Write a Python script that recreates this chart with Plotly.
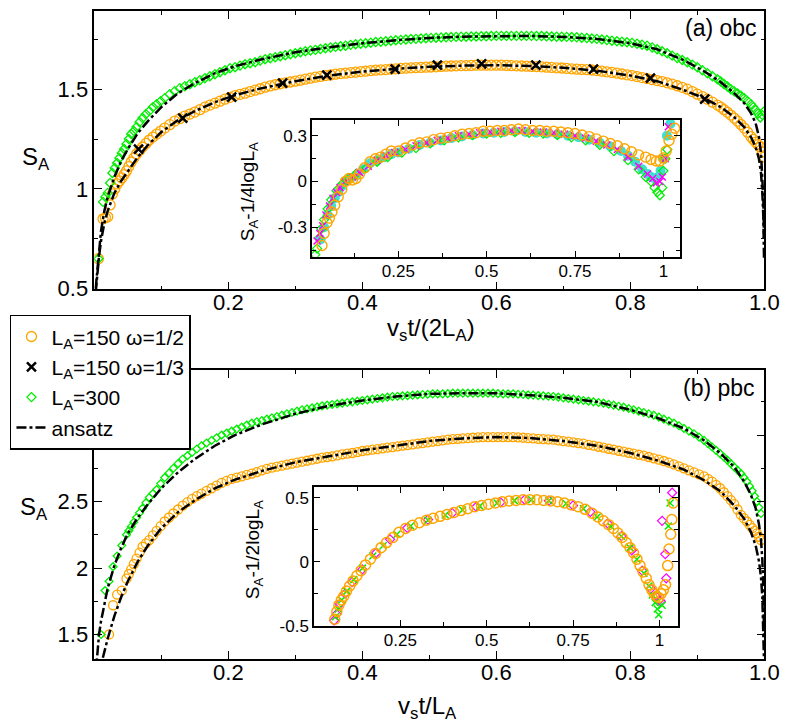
import plotly.graph_objects as go

FONT = "Liberation Sans, Arial, Helvetica, sans-serif"
ORANGE = "#FFA500"
GREEN = "#00EE00"
MAGENTA = "#FF00FF"
CYAN = "#40E0D0"

# ---------------- (a) obc main panel ----------------
xs_obc = [0.006, 0.013, 0.02, 0.027, 0.034, 0.041, 0.048, 0.055, 0.063, 0.072,
          0.082, 0.093, 0.105, 0.12, 0.135, 0.15, 0.165, 0.18, 0.195, 0.21,
          0.225, 0.24, 0.255, 0.27, 0.285, 0.30, 0.315, 0.33, 0.345, 0.36,
          0.375, 0.39, 0.405, 0.42, 0.435, 0.45, 0.465, 0.48, 0.495, 0.51,
          0.525, 0.54, 0.555, 0.57, 0.585, 0.60, 0.615, 0.63, 0.645, 0.66,
          0.675, 0.69, 0.705, 0.72, 0.735, 0.75, 0.765, 0.78, 0.795, 0.81,
          0.825, 0.84, 0.855, 0.87, 0.885, 0.90, 0.915, 0.93, 0.94, 0.95,
          0.96, 0.97, 0.98, 0.987, 0.994, 1.0]
obc_L300 = [0.65, 0.935, 0.98, 1.08, 1.13, 1.18, 1.225, 1.275, 1.31, 1.355,
            1.39, 1.425, 1.455, 1.49, 1.515, 1.535, 1.555, 1.575, 1.595, 1.61,
            1.625, 1.635, 1.65, 1.66, 1.67, 1.68, 1.69, 1.697, 1.705, 1.712,
            1.718, 1.725, 1.73, 1.736, 1.74, 1.745, 1.749, 1.752, 1.755, 1.758,
            1.76, 1.762, 1.763, 1.764, 1.765, 1.767, 1.767, 1.767, 1.767, 1.766,
            1.765, 1.763, 1.762, 1.76, 1.756, 1.752, 1.746, 1.74, 1.735, 1.728,
            1.718, 1.70, 1.68, 1.656, 1.635, 1.61, 1.58, 1.55, 1.525, 1.50,
            1.478, 1.455, 1.425, 1.395, 1.358, 1.39]
obc_L150_w2 = [0.65, 0.85, 0.86, 0.975, 1.025, 1.055, 1.09, 1.135, 1.175, 1.21,
               1.245, 1.275, 1.305, 1.34, 1.365, 1.385, 1.41, 1.43, 1.45, 1.468,
               1.48, 1.495, 1.51, 1.522, 1.532, 1.54, 1.55, 1.56, 1.568, 1.575,
               1.58, 1.585, 1.59, 1.595, 1.598, 1.602, 1.605, 1.608, 1.61, 1.612,
               1.615, 1.617, 1.618, 1.62, 1.62, 1.62, 1.619, 1.617, 1.615, 1.613,
               1.61, 1.607, 1.604, 1.60, 1.598, 1.593, 1.587, 1.58, 1.572, 1.563,
               1.553, 1.543, 1.532, 1.517, 1.50, 1.475, 1.45, 1.42, 1.397, 1.37,
               1.34, 1.305, 1.262, 1.235, 1.21, 1.16]
# in-between time steps (the data are much denser than one point per 0.015)
xs_obc_mid = [0.0165, 0.0235, 0.0305, 0.0375, 0.0445, 0.0515, 0.059, 0.0675, 0.077,
              0.0875, 0.099, 0.1125, 0.1275, 0.1425, 0.1575, 0.1725, 0.1875, 0.2025, 0.2175,
              0.2325, 0.2475, 0.2625, 0.2775, 0.2925, 0.3075, 0.3225, 0.3375, 0.3525, 0.3675,
              0.3825, 0.3975, 0.4125, 0.4275, 0.4425, 0.4575, 0.4725, 0.4875, 0.5025, 0.5175,
              0.5325, 0.5475, 0.5625, 0.5775, 0.5925, 0.6075, 0.6225, 0.6375, 0.6525, 0.6675,
              0.6825, 0.6975, 0.7125, 0.7275, 0.7425, 0.7575, 0.7725, 0.7875, 0.8025, 0.8175,
              0.8325, 0.8475, 0.8625, 0.8775, 0.8925, 0.9075, 0.9225, 0.935, 0.945, 0.955,
              0.965, 0.975, 0.9835, 0.9905, 0.997]
obc_L300_mid = [0.96, 1.03, 1.105, 1.155, 1.20, 1.25, 1.29, 1.335, 1.375,
                1.41, 1.44, 1.475, 1.505, 1.525, 1.545, 1.565, 1.585, 1.605, 1.618,
                1.63, 1.643, 1.655, 1.665, 1.675, 1.685, 1.694, 1.701, 1.709, 1.715,
                1.722, 1.728, 1.733, 1.738, 1.743, 1.747, 1.751, 1.754, 1.757, 1.759,
                1.761, 1.763, 1.764, 1.765, 1.766, 1.767, 1.767, 1.767, 1.767, 1.766,
                1.764, 1.763, 1.761, 1.758, 1.754, 1.749, 1.743, 1.738, 1.732, 1.723,
                1.709, 1.69, 1.668, 1.646, 1.623, 1.595, 1.565, 1.538, 1.513, 1.489,
                1.467, 1.44, 1.41, 1.377, 1.37]
obc_L150_w2_mid = [0.855, 0.92, 1.0, 1.04, 1.072, 1.112, 1.155, 1.193, 1.228,
                   1.26, 1.29, 1.322, 1.352, 1.375, 1.397, 1.42, 1.44, 1.459, 1.474,
                   1.488, 1.502, 1.516, 1.527, 1.536, 1.545, 1.555, 1.564, 1.571, 1.578,
                   1.583, 1.588, 1.593, 1.597, 1.60, 1.604, 1.607, 1.609, 1.611, 1.614,
                   1.616, 1.618, 1.619, 1.62, 1.62, 1.62, 1.618, 1.616, 1.614, 1.612,
                   1.609, 1.606, 1.602, 1.599, 1.596, 1.59, 1.584, 1.576, 1.568, 1.558,
                   1.548, 1.538, 1.525, 1.509, 1.488, 1.463, 1.435, 1.41, 1.384, 1.355,
                   1.323, 1.284, 1.248, 1.222, 1.185]
xs_obc_w3 = [0.066, 0.132, 0.205, 0.281, 0.347, 0.449, 0.512, 0.578, 0.659, 0.745, 0.830, 0.911]
obc_L150_w3 = [1.20, 1.355, 1.46, 1.53, 1.57, 1.60, 1.62, 1.627, 1.62, 1.60, 1.555, 1.45]

xs_ansatz = [0.002, 0.004, 0.007, 0.01, 0.015, 0.02, 0.03, 0.04, 0.05, 0.065,
             0.08, 0.1, 0.125, 0.15, 0.18, 0.21, 0.25, 0.3, 0.35, 0.4,
             0.45, 0.5, 0.55, 0.6, 0.65, 0.7, 0.75, 0.8, 0.84, 0.88,
             0.91, 0.935, 0.955, 0.97, 0.98, 0.987, 0.992, 0.995, 0.997, 0.9985,
             0.9995]
ansatz_obc_L300 = [0.50, 0.58, 0.70, 0.79, 0.89, 0.96, 1.06, 1.14, 1.20, 1.28,
                   1.34, 1.41, 1.48, 1.53, 1.58, 1.615, 1.65, 1.685, 1.71, 1.73,
                   1.745, 1.757, 1.763, 1.766, 1.767, 1.762, 1.752, 1.73, 1.70, 1.645,
                   1.59, 1.535, 1.48, 1.43, 1.38, 1.33, 1.26, 1.18, 1.08, 0.95,
                   0.75]
ansatz_obc_L150 = [0.48, 0.56, 0.66, 0.74, 0.83, 0.89, 0.98, 1.04, 1.09, 1.16,
                   1.22, 1.285, 1.345, 1.39, 1.435, 1.47, 1.505, 1.54, 1.568, 1.588,
                   1.602, 1.612, 1.618, 1.62, 1.616, 1.607, 1.593, 1.568, 1.54, 1.495,
                   1.455, 1.41, 1.36, 1.31, 1.26, 1.21, 1.15, 1.08, 0.98, 0.86,
                   0.65]

# ---------------- (b) pbc main panel ----------------
xs_pbc = [0.01, 0.016, 0.022, 0.028, 0.034, 0.041, 0.048, 0.055, 0.063, 0.072,
          0.082, 0.093, 0.105, 0.118, 0.132, 0.146, 0.16, 0.175, 0.19, 0.205,
          0.22, 0.235, 0.25, 0.265, 0.28, 0.295, 0.31, 0.325, 0.34, 0.355,
          0.37, 0.385, 0.40, 0.415, 0.43, 0.445, 0.46, 0.475, 0.49, 0.505,
          0.52, 0.535, 0.55, 0.565, 0.58, 0.595, 0.61, 0.625, 0.64, 0.655,
          0.67, 0.685, 0.70, 0.715, 0.73, 0.745, 0.76, 0.775, 0.79, 0.805,
          0.82, 0.835, 0.85, 0.865, 0.88, 0.895, 0.91, 0.922, 0.934, 0.945,
          0.955, 0.965, 0.974, 0.982, 0.989, 0.995]
pbc_L300 = [1.50, 1.83, 1.90, 2.01, 2.09, 2.17, 2.25, 2.31, 2.38, 2.45,
            2.53, 2.59, 2.68, 2.75, 2.82, 2.87, 2.92, 2.96, 3.0, 3.03,
            3.06, 3.09, 3.11, 3.13, 3.15, 3.17, 3.19, 3.205, 3.22, 3.23,
            3.24, 3.25, 3.26, 3.27, 3.28, 3.29, 3.295, 3.30, 3.305, 3.31,
            3.31, 3.315, 3.315, 3.315, 3.315, 3.315, 3.31, 3.31, 3.305, 3.30,
            3.295, 3.29, 3.28, 3.27, 3.26, 3.25, 3.24, 3.225, 3.21, 3.19,
            3.17, 3.15, 3.12, 3.09, 3.05, 3.01, 2.96, 2.91, 2.86, 2.81,
            2.76, 2.71, 2.65, 2.58, 2.50, 2.41]
xs_pbc_150 = xs_pbc[2:]
pbc_L150 = [1.50, 1.72, 1.80, 1.83, 1.92, 1.99, 2.07, 2.16,
            2.21, 2.28, 2.35, 2.41, 2.47, 2.52, 2.56, 2.60, 2.64, 2.67,
            2.69, 2.71, 2.735, 2.755, 2.77, 2.785, 2.80, 2.815, 2.83, 2.84,
            2.855, 2.865, 2.88, 2.89, 2.90, 2.91, 2.92, 2.93, 2.94, 2.95,
            2.96, 2.97, 2.975, 2.98, 2.985, 2.985, 2.985, 2.985, 2.98, 2.975,
            2.97, 2.965, 2.955, 2.945, 2.935, 2.92, 2.905, 2.89, 2.875, 2.86,
            2.845, 2.825, 2.805, 2.78, 2.75, 2.72, 2.69, 2.65, 2.60, 2.54,
            2.48, 2.40, 2.35, 2.30, 2.26, 2.21]
xs_pbc_mid = [0.0515, 0.059, 0.0675, 0.077, 0.0875, 0.099, 0.1115, 0.125, 0.139, 0.153,
              0.1675, 0.1825, 0.1975, 0.2125, 0.2275, 0.2425, 0.2575, 0.2725, 0.2875, 0.3025,
              0.3175, 0.3325, 0.3475, 0.3625, 0.3775, 0.3925, 0.4075, 0.4225, 0.4375, 0.4525,
              0.4675, 0.4825, 0.4975, 0.5125, 0.5275, 0.5425, 0.5575, 0.5725, 0.5875, 0.6025,
              0.6175, 0.6325, 0.6475, 0.6625, 0.6775, 0.6925, 0.7075, 0.7225, 0.7375, 0.7525,
              0.7675, 0.7825, 0.7975, 0.8125, 0.8275, 0.8425, 0.8575, 0.8725, 0.8875, 0.9025,
              0.916, 0.928, 0.9395, 0.95, 0.96, 0.9695, 0.978, 0.9855, 0.992]
pbc_L300_mid = [2.28, 2.345, 2.415, 2.49, 2.56, 2.635, 2.715, 2.785, 2.845, 2.895,
                2.94, 2.98, 3.015, 3.045, 3.075, 3.10, 3.12, 3.14, 3.16, 3.18,
                3.197, 3.212, 3.225, 3.235, 3.245, 3.255, 3.265, 3.275, 3.285, 3.292,
                3.297, 3.302, 3.307, 3.31, 3.312, 3.315, 3.315, 3.315, 3.315, 3.312,
                3.31, 3.307, 3.302, 3.297, 3.292, 3.285, 3.275, 3.265, 3.255, 3.245,
                3.232, 3.217, 3.20, 3.18, 3.16, 3.135, 3.105, 3.07, 3.03, 2.985,
                2.935, 2.885, 2.835, 2.785, 2.735, 2.68, 2.615, 2.54, 2.455]
pbc_L150_mid = [1.955, 2.03, 2.115, 2.185, 2.245, 2.315, 2.38, 2.44, 2.495, 2.54,
                2.58, 2.62, 2.655, 2.68, 2.70, 2.722, 2.745, 2.762, 2.777, 2.792,
                2.807, 2.822, 2.835, 2.847, 2.86, 2.872, 2.885, 2.895, 2.905, 2.915,
                2.925, 2.935, 2.945, 2.955, 2.965, 2.972, 2.977, 2.982, 2.985, 2.985,
                2.985, 2.982, 2.977, 2.972, 2.967, 2.96, 2.95, 2.94, 2.927, 2.912,
                2.897, 2.882, 2.867, 2.852, 2.835, 2.815, 2.792, 2.765, 2.735, 2.705,
                2.67, 2.625, 2.57, 2.51, 2.44, 2.375, 2.325, 2.28, 2.235]
ansatz_pbc_L300 = [1.20, 1.35, 1.50, 1.60, 1.74, 1.85, 2.02, 2.15, 2.26, 2.38,
                   2.48, 2.60, 2.72, 2.82, 2.92, 3.0, 3.08, 3.16, 3.22, 3.26,
                   3.29, 3.31, 3.315, 3.315, 3.30, 3.28, 3.25, 3.19, 3.13, 3.05,
                   2.96, 2.86, 2.76, 2.65, 2.55, 2.45, 2.33, 2.21, 2.06, 1.85,
                   1.5]
ansatz_pbc_L150 = [0.90, 1.05, 1.18, 1.27, 1.38, 1.47, 1.64, 1.78, 1.90, 2.05,
                   2.17, 2.30, 2.42, 2.51, 2.60, 2.665, 2.73, 2.795, 2.84, 2.885,
                   2.92, 2.955, 2.975, 2.985, 2.978, 2.955, 2.92, 2.865, 2.81, 2.74,
                   2.66, 2.575, 2.47, 2.37, 2.27, 2.17, 2.05, 1.93, 1.78, 1.58,
                   1.30]

# ---------------- inset (a): S_A - 1/4 log L_A ----------------
ins_a_orange_x = [0.034, 0.04, 0.048, 0.055, 0.062, 0.07, 0.08, 0.09, 0.1, 0.11,
                  0.12, 0.13, 0.14, 0.155, 0.17, 0.185, 0.2, 0.215, 0.23, 0.25,
                  0.27, 0.29, 0.31, 0.33, 0.35, 0.37, 0.39, 0.41, 0.43, 0.45,
                  0.47, 0.49, 0.51, 0.53, 0.55, 0.57, 0.59, 0.61, 0.63, 0.65,
                  0.67, 0.69, 0.71, 0.73, 0.75, 0.77, 0.79, 0.81, 0.83, 0.85,
                  0.87, 0.89, 0.91, 0.93, 0.95, 0.965, 0.98, 0.99, 1.0, 1.008,
                  1.016, 1.024, 1.032]
ins_a_orange_y = [-0.42, -0.34, -0.27, -0.24, -0.2, -0.155, -0.1, -0.05, 0.0, 0.02,
                  0.01, 0.02, 0.05, 0.09, 0.13, 0.15, 0.16, 0.18, 0.2, 0.2,
                  0.22, 0.24, 0.255, 0.26, 0.275, 0.285, 0.29, 0.3, 0.31, 0.315,
                  0.32, 0.33, 0.33, 0.335, 0.335, 0.34, 0.345, 0.34, 0.335, 0.335,
                  0.33, 0.33, 0.325, 0.32, 0.315, 0.305, 0.295, 0.28, 0.265, 0.25,
                  0.235, 0.215, 0.195, 0.175, 0.16, 0.145, 0.135, 0.135, 0.155, 0.2,
                  0.27, 0.31, 0.35]
ins_a_magenta_x = [0.02, 0.028, 0.036, 0.045, 0.055, 0.065, 0.075, 0.085, 0.1, 0.12,
                   0.14, 0.165, 0.19, 0.215, 0.24, 0.27, 0.3, 0.33, 0.36, 0.39,
                   0.42, 0.45, 0.48, 0.51, 0.54, 0.57, 0.6, 0.63, 0.66, 0.69,
                   0.72, 0.75, 0.78, 0.81, 0.84, 0.87, 0.9, 0.93, 0.955, 0.97,
                   0.98, 0.99, 0.997, 1.005, 1.014]
ins_a_magenta_y = [-0.39, -0.34, -0.29, -0.22, -0.16, -0.11, -0.07, -0.04, 0.0, 0.03,
                   0.06, 0.1, 0.14, 0.17, 0.19, 0.21, 0.235, 0.255, 0.27, 0.285,
                   0.30, 0.31, 0.32, 0.325, 0.33, 0.335, 0.335, 0.33, 0.325, 0.32,
                   0.31, 0.30, 0.285, 0.265, 0.24, 0.21, 0.16, 0.10, 0.05, 0.02,
                   -0.01, 0.0, 0.03, 0.15, 0.36]
ins_a_green_x = [0.015, 0.02, 0.026, 0.032, 0.04, 0.05, 0.06, 0.075, 0.09, 0.11,
                 0.13, 0.16, 0.19, 0.22, 0.26, 0.3, 0.34, 0.38, 0.42, 0.46,
                 0.5, 0.54, 0.58, 0.62, 0.66, 0.7, 0.74, 0.78, 0.82, 0.86,
                 0.9, 0.93, 0.95, 0.965, 0.975, 0.983, 0.99, 0.997, 1.0, 1.006,
                 1.011]
ins_a_green_y = [-0.48, -0.44, -0.37, -0.31, -0.25, -0.18, -0.12, -0.06, -0.02, 0.02,
                 0.05, 0.09, 0.13, 0.16, 0.19, 0.22, 0.25, 0.27, 0.29, 0.305,
                 0.315, 0.32, 0.325, 0.32, 0.315, 0.305, 0.29, 0.27, 0.24, 0.2,
                 0.14, 0.08, 0.03, 0.0, -0.04, -0.07, -0.09, -0.04, 0.07, 0.15,
                 0.21]
ins_a_cyan_x = [0.03, 0.04, 0.05, 0.06, 0.07, 0.08, 0.09, 0.1, 0.115, 0.13,
                0.15, 0.17, 0.19, 0.21, 0.23, 0.25, 0.28, 0.31, 0.34, 0.37,
                0.4, 0.43, 0.46, 0.49, 0.52, 0.55, 0.58, 0.61, 0.64, 0.67,
                0.7, 0.73, 0.76, 0.79, 0.82, 0.85, 0.88, 0.9, 0.92, 0.94,
                0.955, 0.965, 0.975, 0.985, 0.992, 1.0, 1.01, 1.02]
ins_a_cyan_y = [-0.38, -0.3, -0.22, -0.16, -0.11, -0.07, -0.03, 0.0, 0.02, 0.04,
                0.08, 0.12, 0.14, 0.16, 0.18, 0.19, 0.215, 0.24, 0.255, 0.27,
                0.285, 0.295, 0.305, 0.315, 0.32, 0.325, 0.33, 0.325, 0.32, 0.315,
                0.31, 0.3, 0.29, 0.275, 0.255, 0.23, 0.2, 0.17, 0.13, 0.08,
                0.05, 0.03, 0.02, 0.03, 0.07, 0.15, 0.3, 0.38]

# ---------------- inset (b): S_A - 1/2 log L_A ----------------
ins_b_orange_x = [0.06, 0.066, 0.072, 0.079, 0.086, 0.094, 0.103, 0.113, 0.124, 0.136,
                  0.149, 0.163, 0.178, 0.194, 0.21, 0.228, 0.246, 0.265, 0.285, 0.305,
                  0.325, 0.345, 0.365, 0.385, 0.405, 0.425, 0.445, 0.465, 0.485, 0.505,
                  0.525, 0.545, 0.565, 0.585, 0.605, 0.625, 0.645, 0.665, 0.685, 0.705,
                  0.725, 0.745, 0.765, 0.785, 0.805, 0.822, 0.838, 0.853, 0.867, 0.88,
                  0.892, 0.904, 0.915, 0.925, 0.935, 0.944, 0.953, 0.962, 0.97, 0.978,
                  0.985, 0.992, 0.998, 1.005, 1.012, 1.018, 1.024, 1.028, 1.033, 1.036,
                  1.04]
ins_b_orange_y = [-0.45, -0.39, -0.34, -0.30, -0.27, -0.23, -0.19, -0.15, -0.11, -0.07,
                  -0.025, 0.02, 0.065, 0.11, 0.15, 0.19, 0.23, 0.26, 0.285, 0.305,
                  0.325, 0.34, 0.355, 0.37, 0.385, 0.40, 0.415, 0.43, 0.44, 0.45,
                  0.46, 0.47, 0.475, 0.48, 0.485, 0.485, 0.485, 0.48, 0.475, 0.47,
                  0.46, 0.445, 0.43, 0.41, 0.38, 0.35, 0.32, 0.29, 0.26, 0.225,
                  0.19, 0.15, 0.11, 0.07, 0.02, -0.03, -0.08, -0.13, -0.18, -0.22,
                  -0.25, -0.27, -0.28, -0.25, -0.22, -0.18, -0.03, 0.1, 0.215, 0.33,
                  0.46]
ins_b_magenta_x = [0.058, 0.065, 0.075, 0.09, 0.11, 0.14, 0.18, 0.22, 0.27, 0.33,
                   0.4, 0.47, 0.54, 0.61, 0.68, 0.75, 0.8, 0.85, 0.89, 0.92,
                   0.95, 0.975, 0.99, 1.0, 1.004, 1.02, 1.017, 1.008, 1.037]
ins_b_magenta_y = [-0.46, -0.41, -0.33, -0.25, -0.16, -0.06, 0.07, 0.175, 0.265, 0.33,
                   0.38, 0.43, 0.465, 0.485, 0.478, 0.44, 0.39, 0.3, 0.2, 0.09,
                   -0.07, -0.21, -0.27, -0.30, -0.31, -0.13, 0.06, 0.32, 0.54]
ins_b_green_x = [0.062, 0.07, 0.08, 0.095, 0.115, 0.14, 0.17, 0.2, 0.24, 0.28,
                 0.33, 0.38, 0.43, 0.48, 0.53, 0.58, 0.63, 0.68, 0.73, 0.78,
                 0.82, 0.86, 0.89, 0.915, 0.935, 0.955, 0.97, 0.98, 0.988, 0.994,
                 0.998, 1.008, 1.026, 1.031]
ins_b_green_y = [-0.43, -0.37, -0.3, -0.23, -0.14, -0.05, 0.045, 0.125, 0.215, 0.28,
                 0.325, 0.365, 0.405, 0.435, 0.46, 0.478, 0.485, 0.477, 0.455, 0.415,
                 0.35, 0.275, 0.2, 0.11, 0.02, -0.09, -0.19, -0.26, -0.32, -0.37,
                 -0.415, -0.34, 0.28, 0.46]

W, H = 789, 727


def px_x(p):
    return p / W


def px_y(p):
    return 1 - p / H


dashdot = "10px,3px,3px,3px"
fig = go.Figure()

# main (a)
fig.add_trace(go.Scatter(x=xs_obc + xs_obc_mid, y=obc_L150_w2 + obc_L150_w2_mid, mode="markers",
                         name="L<sub>A</sub>=150 ω=1/2",
                         marker=dict(symbol="circle-open", size=10, color=ORANGE, line=dict(width=1.3)),
                         xaxis="x", yaxis="y"))
fig.add_trace(go.Scatter(x=xs_obc_w3, y=obc_L150_w3, mode="markers", name="L<sub>A</sub>=150 ω=1/3",
                         marker=dict(symbol="x-thin", size=9, color="black", line=dict(width=2.5, color="black")),
                         xaxis="x", yaxis="y"))
fig.add_trace(go.Scatter(x=xs_obc + xs_obc_mid, y=obc_L300 + obc_L300_mid, mode="markers", name="L<sub>A</sub>=300",
                         marker=dict(symbol="diamond-open", size=7, color=GREEN, line=dict(width=1.3)),
                         xaxis="x", yaxis="y"))
fig.add_trace(go.Scatter(x=xs_ansatz, y=ansatz_obc_L300, mode="lines", name="ansatz",
                         line=dict(color="black", width=2.5, dash=dashdot), xaxis="x", yaxis="y"))
fig.add_trace(go.Scatter(x=xs_ansatz, y=ansatz_obc_L150, mode="lines", showlegend=False,
                         line=dict(color="black", width=2.5, dash=dashdot), xaxis="x", yaxis="y"))

# main (b)
fig.add_trace(go.Scatter(x=xs_pbc_150 + xs_pbc_mid, y=pbc_L150 + pbc_L150_mid, mode="markers", showlegend=False,
                         marker=dict(symbol="circle-open", size=9, color=ORANGE, line=dict(width=1.3)),
                         xaxis="x2", yaxis="y2"))
fig.add_trace(go.Scatter(x=xs_pbc + xs_pbc_mid, y=pbc_L300 + pbc_L300_mid, mode="markers", showlegend=False,
                         marker=dict(symbol="diamond-open", size=6, color=GREEN, line=dict(width=1.3)),
                         xaxis="x2", yaxis="y2"))
fig.add_trace(go.Scatter(x=xs_ansatz, y=ansatz_pbc_L300, mode="lines", showlegend=False,
                         line=dict(color="black", width=2.5, dash=dashdot), xaxis="x2", yaxis="y2"))
fig.add_trace(go.Scatter(x=xs_ansatz, y=ansatz_pbc_L150, mode="lines", showlegend=False,
                         line=dict(color="black", width=2.5, dash=dashdot), xaxis="x2", yaxis="y2"))

# inset (a)
fig.add_trace(go.Scatter(x=ins_a_cyan_x, y=ins_a_cyan_y, mode="markers", showlegend=False,
                         marker=dict(symbol="circle", size=10, color=CYAN), xaxis="x3", yaxis="y3"))
fig.add_trace(go.Scatter(x=ins_a_green_x, y=ins_a_green_y, mode="markers", showlegend=False,
                         marker=dict(symbol="diamond-open", size=7, color=GREEN, line=dict(width=1.2)),
                         xaxis="x3", yaxis="y3"))
fig.add_trace(go.Scatter(x=ins_a_magenta_x, y=ins_a_magenta_y, mode="markers", showlegend=False,
                         marker=dict(symbol="x-thin", size=7, color=MAGENTA, line=dict(width=1.5, color=MAGENTA)),
                         xaxis="x3", yaxis="y3"))
fig.add_trace(go.Scatter(x=ins_a_orange_x, y=ins_a_orange_y, mode="markers", showlegend=False,
                         marker=dict(symbol="circle-open", size=10, color=ORANGE, line=dict(width=1.4)),
                         xaxis="x3", yaxis="y3"))

# inset (b)
fig.add_trace(go.Scatter(x=ins_b_magenta_x, y=ins_b_magenta_y, mode="markers", showlegend=False,
                         marker=dict(symbol="diamond-open", size=7, color=MAGENTA, line=dict(width=1.2)),
                         xaxis="x4", yaxis="y4"))
fig.add_trace(go.Scatter(x=ins_b_green_x, y=ins_b_green_y, mode="markers", showlegend=False,
                         marker=dict(symbol="x-thin", size=7, color=GREEN, line=dict(width=1.5, color=GREEN)),
                         xaxis="x4", yaxis="y4"))
fig.add_trace(go.Scatter(x=ins_b_orange_x, y=ins_b_orange_y, mode="markers", showlegend=False,
                         marker=dict(symbol="circle-open", size=10, color=ORANGE, line=dict(width=1.5)),
                         xaxis="x4", yaxis="y4"))


def axis(rng, dom, tv, tt, minor, fsize, **kw):
    d = dict(range=rng, domain=dom, tickvals=tv, ticktext=tt, ticks="inside", ticklen=8,
             tickwidth=1.3, tickcolor="black", showline=True, linecolor="black", linewidth=1.5,
             mirror="allticks", showgrid=False, zeroline=False,
             tickfont=dict(family=FONT, size=fsize, color="black"),
             minor=dict(tickvals=minor, ticks="inside", ticklen=4, tickcolor="black", tickwidth=1.2))
    d.update(kw)
    return d


xdom_main = [px_x(88), px_x(771)]
main_xt = [0.2, 0.4, 0.6, 0.8, 1.0]
main_xl = ["0.2", "0.4", "0.6", "0.8", "1.0"]
main_xm = [0.1, 0.3, 0.5, 0.7, 0.9]

fig.update_layout(
    width=W, height=H, margin=dict(l=0, r=0, t=0, b=0),
    paper_bgcolor="white", plot_bgcolor="white",
    font=dict(family=FONT, color="black"),
    xaxis=axis([0, 1], xdom_main, main_xt, main_xl, main_xm, 22, anchor="y", ticklabelstandoff=-7),
    yaxis=axis([0.497, 1.892], [px_y(286), px_y(3)], [0.5, 1, 1.5], ["0.5", "1", "1.5"],
               [0.75, 1.25, 1.75], 22, anchor="x"),
    xaxis2=axis([0, 1], xdom_main, main_xt, main_xl, main_xm, 22, anchor="y2", ticklabelstandoff=-7),
    yaxis2=axis([1.315, 3.49], [px_y(662), px_y(368)], [1.5, 2, 2.5, 3], ["1.5", "2", "2.5", "3"],
                [1.75, 2.25, 2.75, 3.25], 22, anchor="x2"),
    xaxis3=axis([0.006, 1.047], [px_x(310), px_x(685)], [0.25, 0.5, 0.75, 1], ["0.25", "0.5", "0.75", "1"],
                [0.125, 0.375, 0.625, 0.875], 17, anchor="y3", ticklen=6, ticklabelstandoff=-2),
    yaxis3=axis([-0.494, 0.403], [px_y(253), px_y(114)], [-0.3, 0, 0.3], ["-0.3", "0", "0.3"],
                [-0.45, -0.15, 0.15], 17, anchor="x3", ticklen=6),
    xaxis4=axis([0, 1.054], [px_x(312), px_x(683)], [0.25, 0.5, 0.75, 1], ["0.25", "0.5", "0.75", "1"],
                [0.125, 0.375, 0.625, 0.875], 17, anchor="y4", ticklen=6, ticklabelstandoff=-2),
    yaxis4=axis([-0.5, 0.585], [px_y(628), px_y(487)], [-0.5, 0, 0.5], ["-0.5", "0", "0.5"],
                [-0.25, 0.25], 17, anchor="x4", ticklen=6),
    legend=dict(x=px_x(2), y=px_y(312), xanchor="left", yanchor="top", bgcolor="white",
                bordercolor="black", borderwidth=1.5, font=dict(family=FONT, size=21, color="black"),
                tracegroupgap=0),
)

annots = [
    dict(text="(a) obc", x=px_x(766), y=px_y(20), xanchor="right", yanchor="middle", size=23, angle=0),
    dict(text="(b) pbc", x=px_x(764), y=px_y(386), xanchor="right", yanchor="middle", size=23, angle=0),
    dict(text="S<sub>A</sub>", x=px_x(29), y=px_y(153), xanchor="center", yanchor="middle", size=24, angle=0),
    dict(text="S<sub>A</sub>", x=px_x(26), y=px_y(509), xanchor="center", yanchor="middle", size=24, angle=0),
    dict(text="v<sub>s</sub>t/(2L<sub>A</sub>)", x=px_x(431), y=px_y(327), xanchor="center", yanchor="middle", size=24, angle=0),
    dict(text="v<sub>s</sub>t/L<sub>A</sub>", x=px_x(428), y=px_y(711), xanchor="center", yanchor="middle", size=24, angle=0),
    dict(text="S<sub>A</sub>-1/4logL<sub>A</sub>", x=px_x(246), y=px_y(187), xanchor="center", yanchor="middle", size=19, angle=-90),
    dict(text="S<sub>A</sub>-1/2logL<sub>A</sub>", x=px_x(251), y=px_y(551), xanchor="center", yanchor="middle", size=19, angle=-90),
]
for a in annots:
    fig.add_annotation(text=a["text"], x=a["x"], y=a["y"], xref="paper", yref="paper",
                       xanchor=a["xanchor"], yanchor=a["yanchor"], showarrow=False,
                       textangle=a["angle"], font=dict(family=FONT, size=a["size"], color="black"))

fig.write_html("out.html")
